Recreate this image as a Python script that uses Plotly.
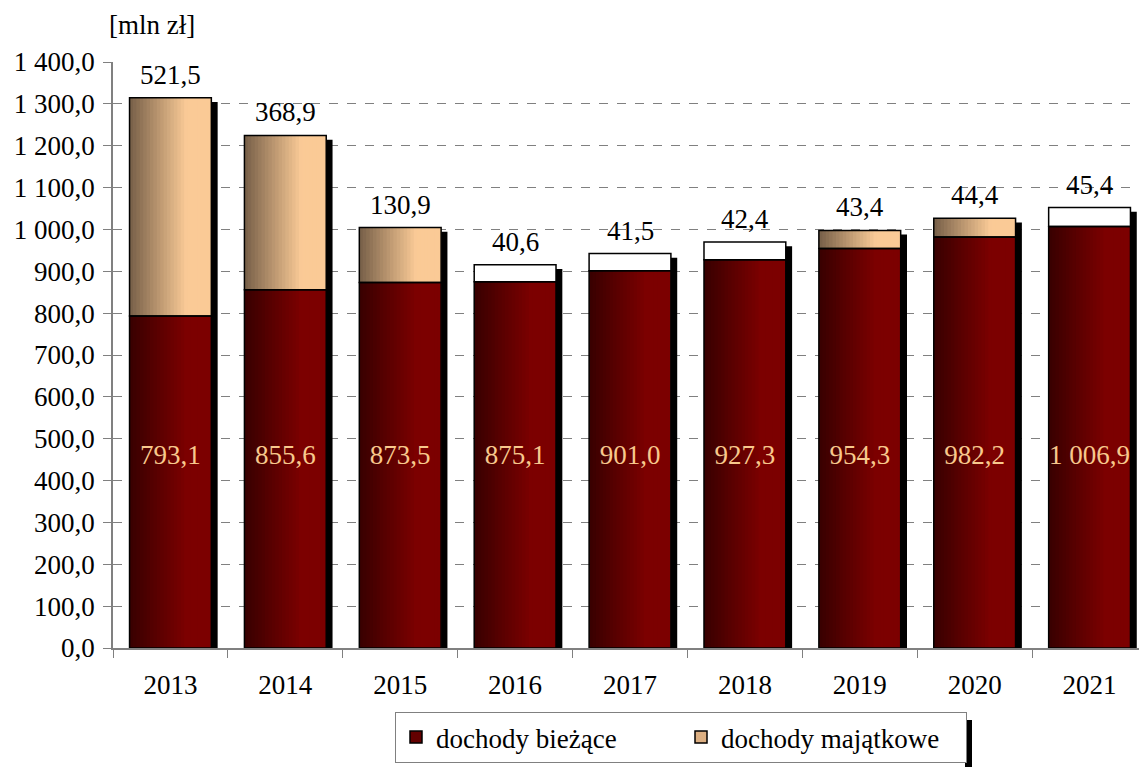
import plotly.graph_objects as go

years = ["2013", "2014", "2015", "2016", "2017", "2018", "2019", "2020", "2021"]
biezace = [793.1, 855.6, 873.5, 875.1, 901.0, 927.3, 954.3, 982.2, 1006.9]
majatkowe = [521.5, 368.9, 130.9, 40.6, 41.5, 42.4, 43.4, 44.4, 45.4]
top_style = ["tan", "tan", "tan", "white", "white", "white", "tan", "tan", "white"]
y_ticks = [i * 100 for i in range(15)]

FONT = "Liberation Serif, DejaVu Serif, serif"
FS = 27
N = 24
BW = 0.712
SH_W = 0.055
SH_DROP = 10

def lerp(c1, c2, t):
    return "rgb({},{},{})".format(*[round(a + (b - a) * t) for a, b in zip(c1, c2)])

red_l, red_r = (58, 0, 0), (124, 0, 0)
tan_l, tan_r = (122, 98, 74), (250, 202, 150)

fig = go.Figure()
totals = [a + b for a, b in zip(biezace, majatkowe)]

# shadows
fig.add_trace(go.Bar(x=years, y=[t - SH_DROP for t in totals], base=0, width=SH_W, offset=BW / 2,
                     marker=dict(color="black", line=dict(width=0)), showlegend=False, hoverinfo="skip"))

sw = BW / N
for k in range(N):
    t = min(k / (N - 1) / 0.7, 1.0)
    c_red = lerp(red_l, red_r, t)
    c_tan = lerp(tan_l, tan_r, t)
    w = sw * 1.4 if k < N - 1 else sw
    fig.add_trace(go.Bar(x=years, y=biezace, base=0, width=w, offset=-BW / 2 + k * sw,
                         marker=dict(color=c_red, line=dict(width=0)), showlegend=False, hoverinfo="skip"))
    cols = [c_tan if s == "tan" else "white" for s in top_style]
    fig.add_trace(go.Bar(x=years, y=majatkowe, base=biezace, width=w, offset=-BW / 2 + k * sw,
                         marker=dict(color=cols, line=dict(width=0)), showlegend=False, hoverinfo="skip"))

# outlines
fig.add_trace(go.Bar(x=years, y=biezace, base=0, width=BW, offset=-BW / 2,
                     marker=dict(color="rgba(0,0,0,0)", line=dict(color="black", width=1.5)),
                     showlegend=False, hoverinfo="skip"))
fig.add_trace(go.Bar(x=years, y=majatkowe, base=biezace, width=BW, offset=-BW / 2,
                     marker=dict(color="rgba(0,0,0,0)", line=dict(color="black", width=1.5)),
                     showlegend=False, hoverinfo="skip"))

def fmt(v):
    s = f"{v:,.1f}"
    return s.replace(",", " ").replace(".", ",")

# inner labels
fig.add_trace(go.Scatter(x=years, y=[455] * len(years), mode="text", text=[fmt(v) for v in biezace],
                         textposition="middle center", textfont=dict(family=FONT, size=FS, color="#F8C88C"),
                         showlegend=False, hoverinfo="skip"))

# legend entries
fig.add_trace(go.Bar(x=[None], y=[None], name="dochody bieżące",
                     marker=dict(color="rgb(100,0,0)", line=dict(color="black", width=1.5))))
fig.add_trace(go.Bar(x=[None], y=[None], name="dochody majątkowe",
                     marker=dict(color="rgb(220,175,130)", line=dict(color="black", width=1.5))))

# top labels (category axis: annotations use category index)
top_ann = [dict(x=i, y=tot, xref="x", yref="y", text=fmt(v), showarrow=False, yanchor="bottom",
                yshift=6, font=dict(family=FONT, size=FS, color="black"))
           for i, (tot, v) in enumerate(zip(totals, majatkowe))]

# page is offset by 8px body margin
L, T = 105, 54
PW, PH = 1034, 586
LEG_R = 965

fig.update_layout(
    width=1139, height=759,
    margin=dict(l=L, r=0, t=T, b=759 - T - PH),
    paper_bgcolor="white", plot_bgcolor="white",
    barmode="overlay",
    separators=", ",
    font=dict(family=FONT, size=FS, color="black"),
    showlegend=True,
    legend=dict(orientation="h", x=(395 - 113) / PW, y=(648 - 712) / PH, xanchor="left", yanchor="top",
                bordercolor="#808080", borderwidth=1, bgcolor="white",
                font=dict(family=FONT, size=FS), itemwidth=30, entrywidth=240),
    xaxis=dict(type="category", categoryorder="array", categoryarray=years, range=[-0.5, 8.5],
               showline=True, linecolor="#808080", linewidth=1.5, ticks="outside", ticklen=8,
               tickcolor="#808080", tickson="boundaries", showgrid=False, ticklabelstandoff=12,
               tickfont=dict(family=FONT, size=FS)),
    yaxis=dict(range=[0, 1400], tickvals=y_ticks, tickformat=",.1f", showline=True, linecolor="#808080",
               linewidth=1.5, ticks="outside", ticklen=8, tickcolor="#808080", ticklabelstandoff=3,
               showgrid=True, gridcolor="#808080", griddash="dash", gridwidth=1, zeroline=False,
               tickfont=dict(family=FONT, size=FS)),
    annotations=top_ann + [dict(text="[mln zł]", xref="paper", yref="paper", x=-0.006, y=(648 - 25) / PH,
                      xanchor="left", yanchor="middle", showarrow=False, font=dict(family=FONT, size=FS))],
    shapes=[dict(type="rect", xref="paper", yref="paper", x0=(LEG_R - 113) / PW, x1=(LEG_R + 7 - 113) / PW,
                 y0=(648 - 720) / PH, y1=(648 - 770) / PH, fillcolor="black", line=dict(width=0))],
)

fig.write_html("out.html")
